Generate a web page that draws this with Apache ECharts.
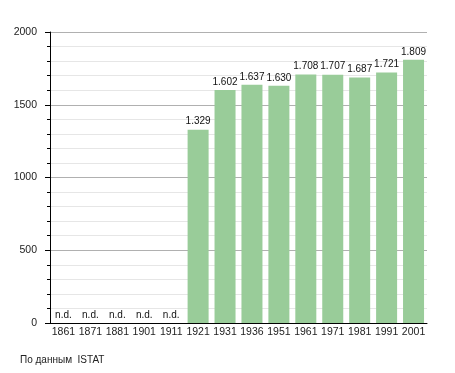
<!DOCTYPE html>
<html><head><meta charset="utf-8">
<script src="https://cdn.jsdelivr.net/npm/echarts@6/dist/echarts.min.js"></script>
<style>html,body{margin:0;padding:0;background:#fff}#c{width:455px;height:373px}</style>
</head><body><div id="c"></div>
<script>
const years = ['1861','1871','1881','1901','1911','1921','1931','1936','1951','1961','1971','1981','1991','2001'];
const population = [null,null,null,null,null,1329,1602,1637,1630,1708,1707,1687,1721,1809];
const yTicks = [0,500,1000,1500,2000];
const sourceNote = 'По данным  ISTAT';
const FONT = '"Liberation Sans", Arial, sans-serif';
function fmt(v){ return String(v).replace(/\B(?=(\d{3})+(?!\d))/g,'.'); }
const chart = echarts.init(document.getElementById('c'));
chart.setOption({
  animation:false,
  textStyle:{fontFamily:FONT},
  grid:{left:50,right:28,top:32,bottom:50},
  graphic:[{type:'text',left:20,top:355,style:{text:sourceNote,font:'10px '+FONT,fill:'#222'}}],
  xAxis:{type:'category',data:years,
    axisLine:{lineStyle:{color:'#000',width:1}},
    axisTick:{show:false},
    axisLabel:{color:'#222',fontSize:10.5,margin:4,interval:0}},
  yAxis:{type:'value',min:yTicks[0],max:yTicks[yTicks.length-1],interval:500,
    axisLine:{show:true,lineStyle:{color:'#000',width:1}},
    axisTick:{show:true,length:5,lineStyle:{color:'#000'}},
    minorTick:{show:true,splitNumber:5,length:3,lineStyle:{color:'#000'}},
    splitLine:{show:true,lineStyle:{color:'#b0b0b0',width:1}},
    minorSplitLine:{show:true,lineStyle:{color:'#e6e6e6',width:1}},
    axisLabel:{color:'#222',fontSize:10.5,margin:13,formatter:v=>String(v)}},
  series:[{type:'bar',barWidth:21,
    data:population.map(v=>v===null?0:v),
    itemStyle:{color:'#99cc99'},
    label:{show:true,position:'top',distance:3,color:'#111',fontSize:10,
      formatter:p=>population[p.dataIndex]===null?'n.d.':fmt(p.value)}}]
});
</script></body></html>
